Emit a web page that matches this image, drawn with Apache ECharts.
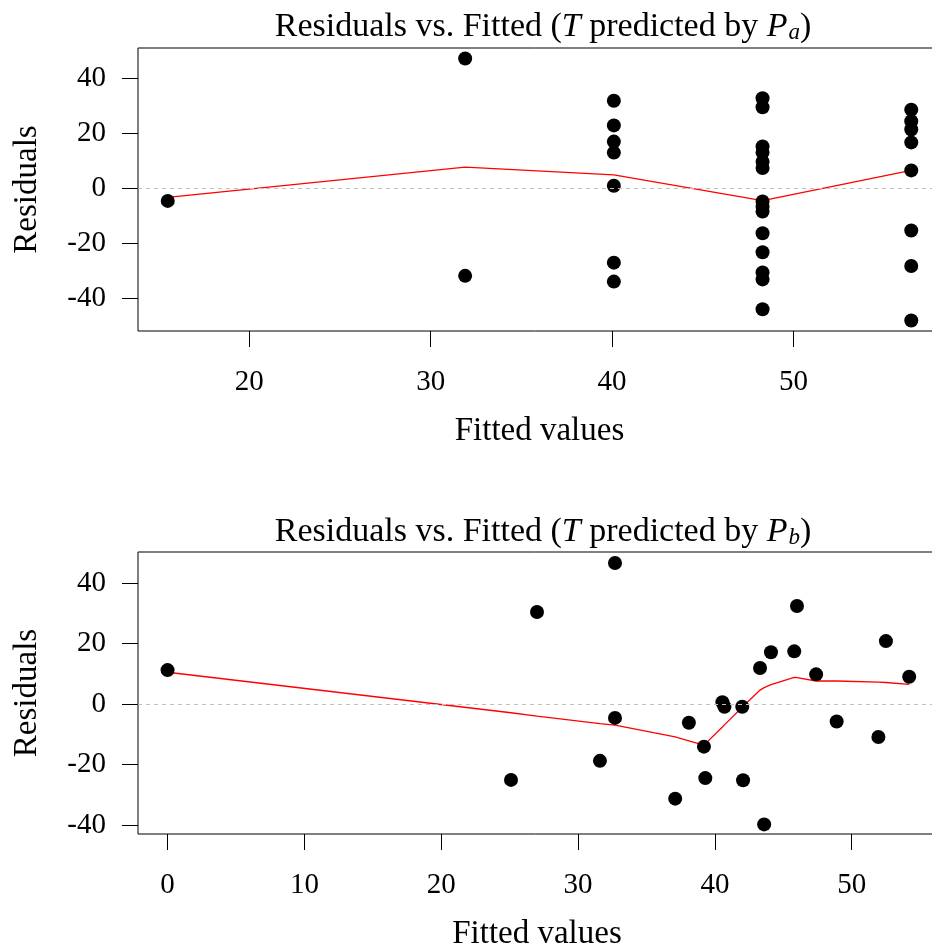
<!DOCTYPE html>
<html>
<head>
<meta charset="utf-8">
<script src="https://cdn.jsdelivr.net/npm/echarts@6/dist/echarts.min.js"></script>
<style>
html,body{margin:0;padding:0;background:#fff;}
#c{width:932px;height:948px;}
</style>
</head>
<body>
<div id="c"></div>
<script>
// ---- Top panel data (T predicted by P_a) ----
const topFitted = [15.5,
  31.9, 31.9,
  40.1, 40.1, 40.1, 40.1, 40.1, 40.1, 40.1,
  48.3, 48.3, 48.3, 48.3, 48.3, 48.3, 48.3, 48.3, 48.3, 48.3, 48.3, 48.3, 48.3, 48.3,
  56.5, 56.5, 56.5, 56.5, 56.5, 56.5, 56.5, 56.5];
const topResid = [-4.6,
  47.3, -31.9,
  31.9, 22.9, 17.0, 13.0, 0.9, -27.1, -34.0,
  32.8, 29.5, 15.2, 13.0, 9.7, 7.4, -4.8, -6.7, -8.5, -16.4, -23.3, -30.7, -33.2, -44.1,
  28.6, 24.4, 21.4, 16.7, 6.5, -15.4, -28.3, -48.2];
const topSmoothX = [15.5, 31.9, 40.1, 48.3, 56.5];
const topSmoothY = [-3.3, 7.7, 4.9, -4.5, 6.5];
const topXTicks = [20, 30, 40, 50];
const topYTicks = [-40, -20, 0, 20, 40];

// ---- Bottom panel data (T predicted by P_b) ----
const botFitted = [0, 25.1, 27.0, 31.6, 32.7, 32.7, 37.1, 38.1, 39.2, 39.3, 40.55, 40.7,
  42.0, 42.06, 43.3, 43.6, 44.1, 45.8, 46.0, 47.4, 48.9, 51.95, 52.5, 54.2];
const botResid = [11.2, -25.1, 30.4, -18.8, 46.6, -4.6, -31.3, -6.2, -14.1, -24.5, 0.6, -0.9,
  -0.9, -25.2, 11.9, -39.8, 17.1, 17.4, 32.4, 9.8, -5.8, -10.9, 20.8, 9.0];
const botSmoothX = [0, 25.1, 27.0, 31.6, 32.7, 37.1, 38.1, 39.2, 39.3, 40.55, 40.7, 42.0, 42.06,
  43.3, 43.6, 44.1, 45.8, 46.0, 47.4, 48.9, 51.95, 52.5, 54.2];
const botSmoothY = [10.5, -2.9, -4.0, -6.5, -7.0, -10.9, -12.2, -13.6, -13.5, -7.6, -6.9, -1.1, -0.8,
  4.6, 5.4, 6.4, 8.8, 8.7, 7.6, 7.6, 7.2, 7.1, 6.5];
const botXTicks = [0, 10, 20, 30, 40, 50];
const botYTicks = [-40, -20, 0, 20, 40];

const FONT = 'Liberation Serif';
const zip = (a, b) => a.map((v, i) => [v, b[i]]);

function xAxis(idx, min, max, ticks) {
  return {
    type: 'value', gridIndex: idx, min: min, max: max,
    name: 'Fitted values', nameLocation: 'middle', nameGap: 84,
    nameTextStyle: {fontFamily: FONT, fontSize: 33, color: '#000'},
    axisLine: {show: false, onZero: false},
    axisTick: {show: true, length: 16, lineStyle: {color: '#000', width: 1}, customValues: ticks},
    axisLabel: {fontFamily: FONT, fontSize: 29, color: '#000', margin: 37, customValues: ticks},
    splitLine: {show: false}
  };
}
function yAxis(idx, min, max, ticks) {
  return {
    type: 'value', gridIndex: idx, min: min, max: max,
    name: 'Residuals', nameLocation: 'middle', nameGap: 94,
    nameTextStyle: {fontFamily: FONT, fontSize: 33, color: '#000'},
    axisLine: {show: false, onZero: false},
    axisTick: {show: true, length: 16, lineStyle: {color: '#000', width: 1}, customValues: ticks},
    axisLabel: {fontFamily: FONT, fontSize: 29, color: '#000', margin: 32, customValues: ticks},
    splitLine: {show: false}
  };
}
const titleRich = {
  r: {fontFamily: FONT, fontSize: 34, fontWeight: 'normal', color: '#000'},
  i: {fontFamily: FONT, fontSize: 34, fontWeight: 'normal', fontStyle: 'italic', color: '#000'},
  s: {fontFamily: FONT, fontSize: 23, fontWeight: 'normal', fontStyle: 'italic', color: '#000', verticalAlign: 'bottom', padding: [0, 0, 0, 1]}
};
const zeroLine = {
  silent: true, symbol: 'none', label: {show: false},
  lineStyle: {color: '#c0c0c0', type: [4, 4], width: 1},
  data: [{yAxis: 0}]
};

const chart = echarts.init(document.getElementById('c'), null, {renderer: 'canvas'});
chart.setOption({
  animation: false,
  backgroundColor: '#fff',
  title: [
    {text: '{r|Residuals vs. Fitted (}{i|T}{r| predicted by }{i|P}{s|a}{r|)}', left: 538, top: 5, textAlign: 'center',
     textStyle: {fontWeight: 'normal', rich: titleRich}},
    {text: '{r|Residuals vs. Fitted (}{i|T}{r| predicted by }{i|P}{s|b}{r|)}', left: 538, top: 510, textAlign: 'center',
     textStyle: {fontWeight: 'normal', rich: titleRich}}
  ],
  grid: [
    {left: 138, top: 48, width: 803, height: 283, show: true, borderColor: '#000', borderWidth: 1,
     backgroundColor: 'transparent', outerBoundsMode: 'none', containLabel: false},
    {left: 138, top: 552, width: 798, height: 282, show: true, borderColor: '#000', borderWidth: 1,
     backgroundColor: 'transparent', outerBoundsMode: 'none', containLabel: false}
  ],
  xAxis: [xAxis(0, 13.86, 58.14, topXTicks), xAxis(1, -2.16, 56.16, botXTicks)],
  yAxis: [yAxis(0, -52.0, 51.1, topYTicks), yAxis(1, -42.98, 50.25, botYTicks)],
  series: [
    {type: 'line', xAxisIndex: 0, yAxisIndex: 0, data: zip(topSmoothX, topSmoothY), showSymbol: false,
     lineStyle: {color: '#ff0000', width: 1.3}, markLine: zeroLine, z: 2},
    {type: 'scatter', xAxisIndex: 0, yAxisIndex: 0, data: zip(topFitted, topResid), symbol: 'circle', symbolSize: 14,
     itemStyle: {color: '#000', opacity: 1}, z: 3},
    {type: 'line', xAxisIndex: 1, yAxisIndex: 1, data: zip(botSmoothX, botSmoothY), showSymbol: false,
     lineStyle: {color: '#ff0000', width: 1.3}, markLine: zeroLine, z: 2},
    {type: 'scatter', xAxisIndex: 1, yAxisIndex: 1, data: zip(botFitted, botResid), symbol: 'circle', symbolSize: 14,
     itemStyle: {color: '#000', opacity: 1}, z: 3}
  ]
});
</script>
</body>
</html>
